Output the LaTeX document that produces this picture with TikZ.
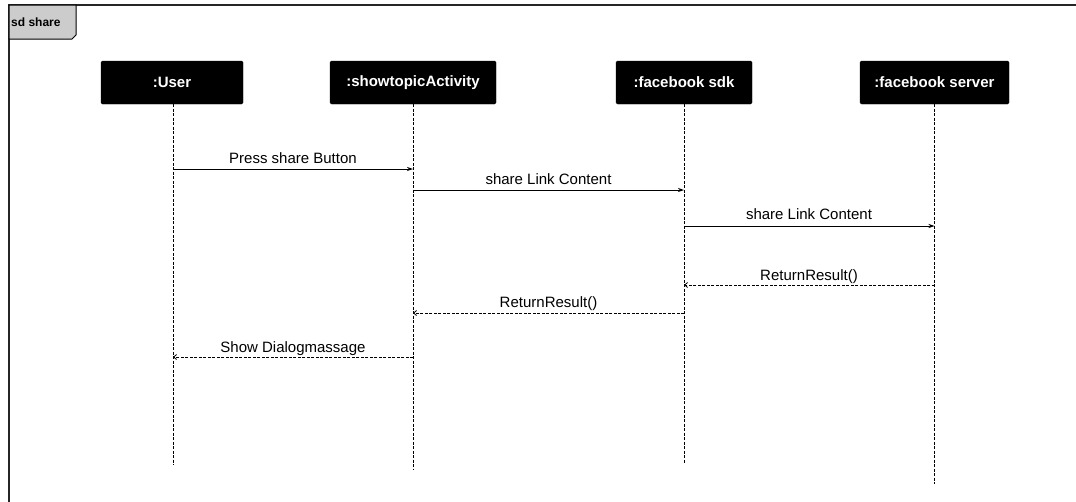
\documentclass[tikz,border=0pt]{standalone}
\usepackage{fontspec}
\setmainfont{Liberation Sans}
\usetikzlibrary{arrows.meta}
\begin{document}
\begin{tikzpicture}[x=1pt,y=-1pt,
  obj/.style={fill=black,draw=black,rounded corners=1.5pt,minimum height=43pt,text=white,font=\fontsize{15}{17}\selectfont\bfseries,inner sep=0pt},
  life/.style={draw=black,line width=0.8pt,dash pattern=on 3pt off 1.5pt},
  msg/.style={draw=black,line width=0.8pt,-{Stealth[length=6pt,width=4pt]}},
  ret/.style={draw=black,line width=0.8pt,dash pattern=on 3pt off 1.5pt,-{Straight Barb[length=3pt,width=5pt]}},
  lbl/.style={font=\fontsize{15}{17}\selectfont,inner sep=0pt,anchor=base}]
\useasboundingbox (0,0) rectangle (1076,501);
\fill[white] (0,0) rectangle (1076,501);
% frame
\draw[line width=1.5pt,draw=black!85] (9,510) -- (9,5) -- (1085,5);
\draw[line width=1pt,fill=black!20] (9,5) -- (76,5) -- (76,35) -- (72,39) -- (9,39) -- cycle;
\node[font=\fontsize{12}{13}\selectfont\bfseries,anchor=west,inner sep=0pt] (frm) at (11,22) {sd share};
% objects
\node[obj,minimum width=142pt] (u) at (172,82.5) {:User};
\node[obj,minimum width=166pt] (a) at (413,82.5) {:showtopicActivity};
\node[obj,minimum width=136pt] (s) at (684,82.5) {:facebook sdk};
\node[obj,minimum width=149pt] (f) at (934.5,82.5) {:facebook server};
\coordinate (ue) at (173,465);
\coordinate (ae) at (413,470);
\coordinate (se) at (684,463);
\coordinate (fe) at (934.5,484);
\draw[life] (u.south -| ue) -- (ue);
\draw[life] (a.south) -- (ae);
\draw[life] (s.south) -- (se);
\draw[life] (f.south) -- (fe);
% messages
\coordinate (m1a) at (173,169); \coordinate (m1b) at (413,169);
\draw[msg] (m1a) -- (m1b);
\node[lbl] (t1) at (293,163) {Press share Button};
\coordinate (m2a) at (413,190); \coordinate (m2b) at (684,190);
\draw[msg] (m2a) -- (m2b);
\node[lbl] (t2) at (548.5,184) {share Link Content};
\coordinate (m3a) at (684,226); \coordinate (m3b) at (934.5,226);
\draw[msg] (m3a) -- (m3b);
\node[lbl] (t3) at (809,219) {share Link Content};
\coordinate (m4a) at (934.5,285); \coordinate (m4b) at (684,285);
\draw[ret] (m4a) -- (m4b);
\node[lbl] (t4) at (809,280) {ReturnResult()};
\coordinate (m5a) at (684,313); \coordinate (m5b) at (413,313);
\draw[ret] (m5a) -- (m5b);
\node[lbl] (t5) at (548.5,307) {ReturnResult()};
\coordinate (m6a) at (413,357); \coordinate (m6b) at (173,357);
\draw[ret] (m6a) -- (m6b);
\node[lbl] (t6) at (293,352) {Show Dialogmassage};
\end{tikzpicture}
\end{document}
